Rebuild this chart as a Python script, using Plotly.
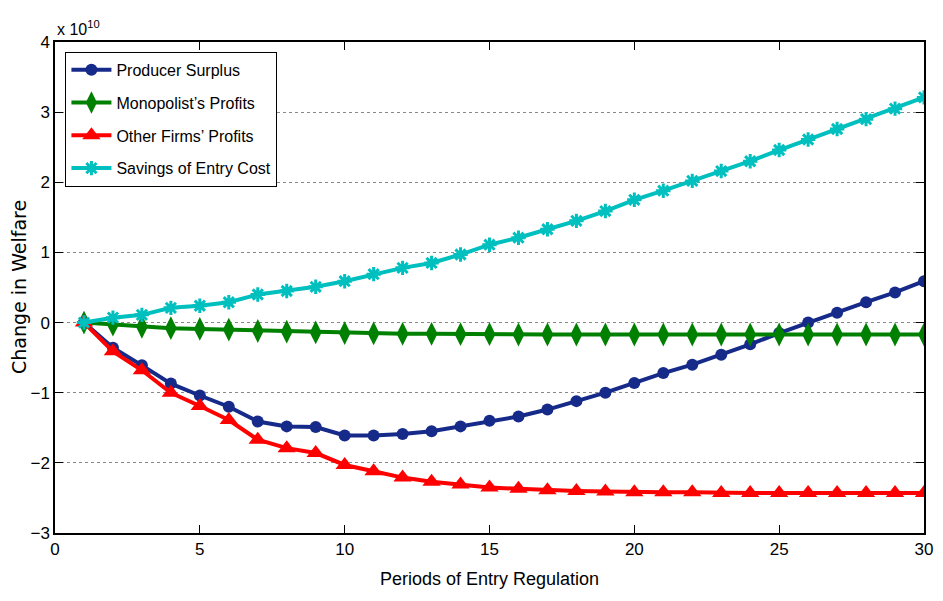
import plotly.graph_objects as go

periods = list(range(1, 31))
producer_surplus = [0.0, -0.36, -0.61, -0.87, -1.04, -1.20, -1.41, -1.48, -1.49, -1.61,
                    -1.61, -1.59, -1.55, -1.48, -1.40, -1.34, -1.24, -1.12, -1.00, -0.86,
                    -0.72, -0.60, -0.46, -0.31, -0.15, 0.00, 0.14, 0.29, 0.43, 0.59]
monopolist_profits = [0.0, -0.03, -0.06, -0.08, -0.09, -0.10, -0.12, -0.13, -0.14, -0.15,
                      -0.155, -0.16, -0.16, -0.165, -0.165, -0.17, -0.17, -0.17, -0.17, -0.17,
                      -0.17, -0.17, -0.17, -0.17, -0.17, -0.17, -0.17, -0.17, -0.17, -0.17]
other_firms_profits = [0.0, -0.41, -0.68, -1.00, -1.19, -1.39, -1.67, -1.79, -1.86, -2.03,
                       -2.12, -2.21, -2.27, -2.31, -2.35, -2.37, -2.39, -2.40, -2.41, -2.42,
                       -2.42, -2.42, -2.43, -2.43, -2.43, -2.43, -2.43, -2.43, -2.43, -2.43]
savings_entry_cost = [0.0, 0.07, 0.11, 0.21, 0.24, 0.29, 0.40, 0.45, 0.51, 0.59,
                      0.69, 0.78, 0.85, 0.97, 1.11, 1.21, 1.33, 1.45, 1.59, 1.75,
                      1.88, 2.02, 2.16, 2.30, 2.46, 2.61, 2.76, 2.90, 3.05, 3.21]
x_ticks = [0, 5, 10, 15, 20, 25, 30]
y_ticks = [-3, -2, -1, 0, 1, 2, 3, 4]
y_tick_labels = ["\u22123", "\u22122", "\u22121", "0", "1", "2", "3", "4"]

NARROW = "Liberation Sans Narrow, Arial Narrow, Liberation Sans, Arial"

fig = go.Figure()
fig.add_trace(go.Scatter(
    x=periods, y=producer_surplus, name="Producer Surplus", mode="lines+markers",
    legendgroup="a",
    line=dict(color="#162a8a", width=4),
    marker=dict(symbol="circle", size=12, color="#162a8a")))
fig.add_trace(go.Scatter(
    x=periods, y=monopolist_profits, name="Monopolist\u2019s Profits", mode="lines+markers",
    legendgroup="b",
    line=dict(color="#008000", width=4),
    marker=dict(symbol="diamond-tall", size=17, color="#008000")))
fig.add_trace(go.Scatter(
    x=periods, y=other_firms_profits, name="Other Firms\u2019 Profits", mode="lines+markers",
    legendgroup="c",
    line=dict(color="#ff0000", width=4),
    marker=dict(symbol="triangle-up", size=16, color="#ff0000")))
fig.add_trace(go.Scatter(
    x=periods, y=savings_entry_cost, name="Savings of Entry Cost", mode="lines+markers",
    legendgroup="d",
    line=dict(color="#00bfbf", width=4),
    marker=dict(symbol="asterisk-open", size=12, color="#00bfbf",
                line=dict(color="#00bfbf", width=3))))

fig.update_layout(
    width=943, height=601,
    margin=dict(l=55, r=10, t=42, b=68),
    paper_bgcolor="white", plot_bgcolor="white",
    font=dict(family=NARROW, size=16, color="black"),
    showlegend=True,
    legend=dict(x=0.012, y=0.98, xanchor="left", yanchor="top",
                bgcolor="white", bordercolor="black", borderwidth=1,
                font=dict(family=NARROW, size=16), tracegroupgap=9,
                itemwidth=40),
    xaxis=dict(range=[0, 30], tickvals=x_ticks, ticks="inside", ticklen=8,
               tickcolor="black", showline=True, linecolor="black", linewidth=1.5,
               mirror="ticks", showgrid=False, zeroline=False,
               tickfont=dict(family=NARROW, size=17),
               title=dict(text="Periods of Entry Regulation",
                          font=dict(family=NARROW, size=18), standoff=14)),
    yaxis=dict(range=[-3, 4], tickvals=y_ticks, ticktext=y_tick_labels,
               ticks="inside", ticklen=8, tickcolor="black",
               showline=True, linecolor="black", linewidth=1.5, mirror="ticks",
               showgrid=True, gridcolor="#888888", griddash="dot", gridwidth=1,
               zeroline=False, tickfont=dict(family=NARROW, size=17)),
    annotations=[
        dict(text="Change in Welfare", textangle=-90, x=-0.042, xref="paper", y=0.5,
             yref="paper", showarrow=False,
             font=dict(family="DejaVu Sans, Liberation Sans, Arial", size=19),
             xanchor="center", yanchor="middle"),
        dict(text="x 10<sup>10</sup>", x=0.0, xref="paper", y=1.0, yref="paper",
             xanchor="left", yanchor="bottom", yshift=2, showarrow=False,
             font=dict(family=NARROW, size=16)),
    ],
)

fig.write_html("out.html")
